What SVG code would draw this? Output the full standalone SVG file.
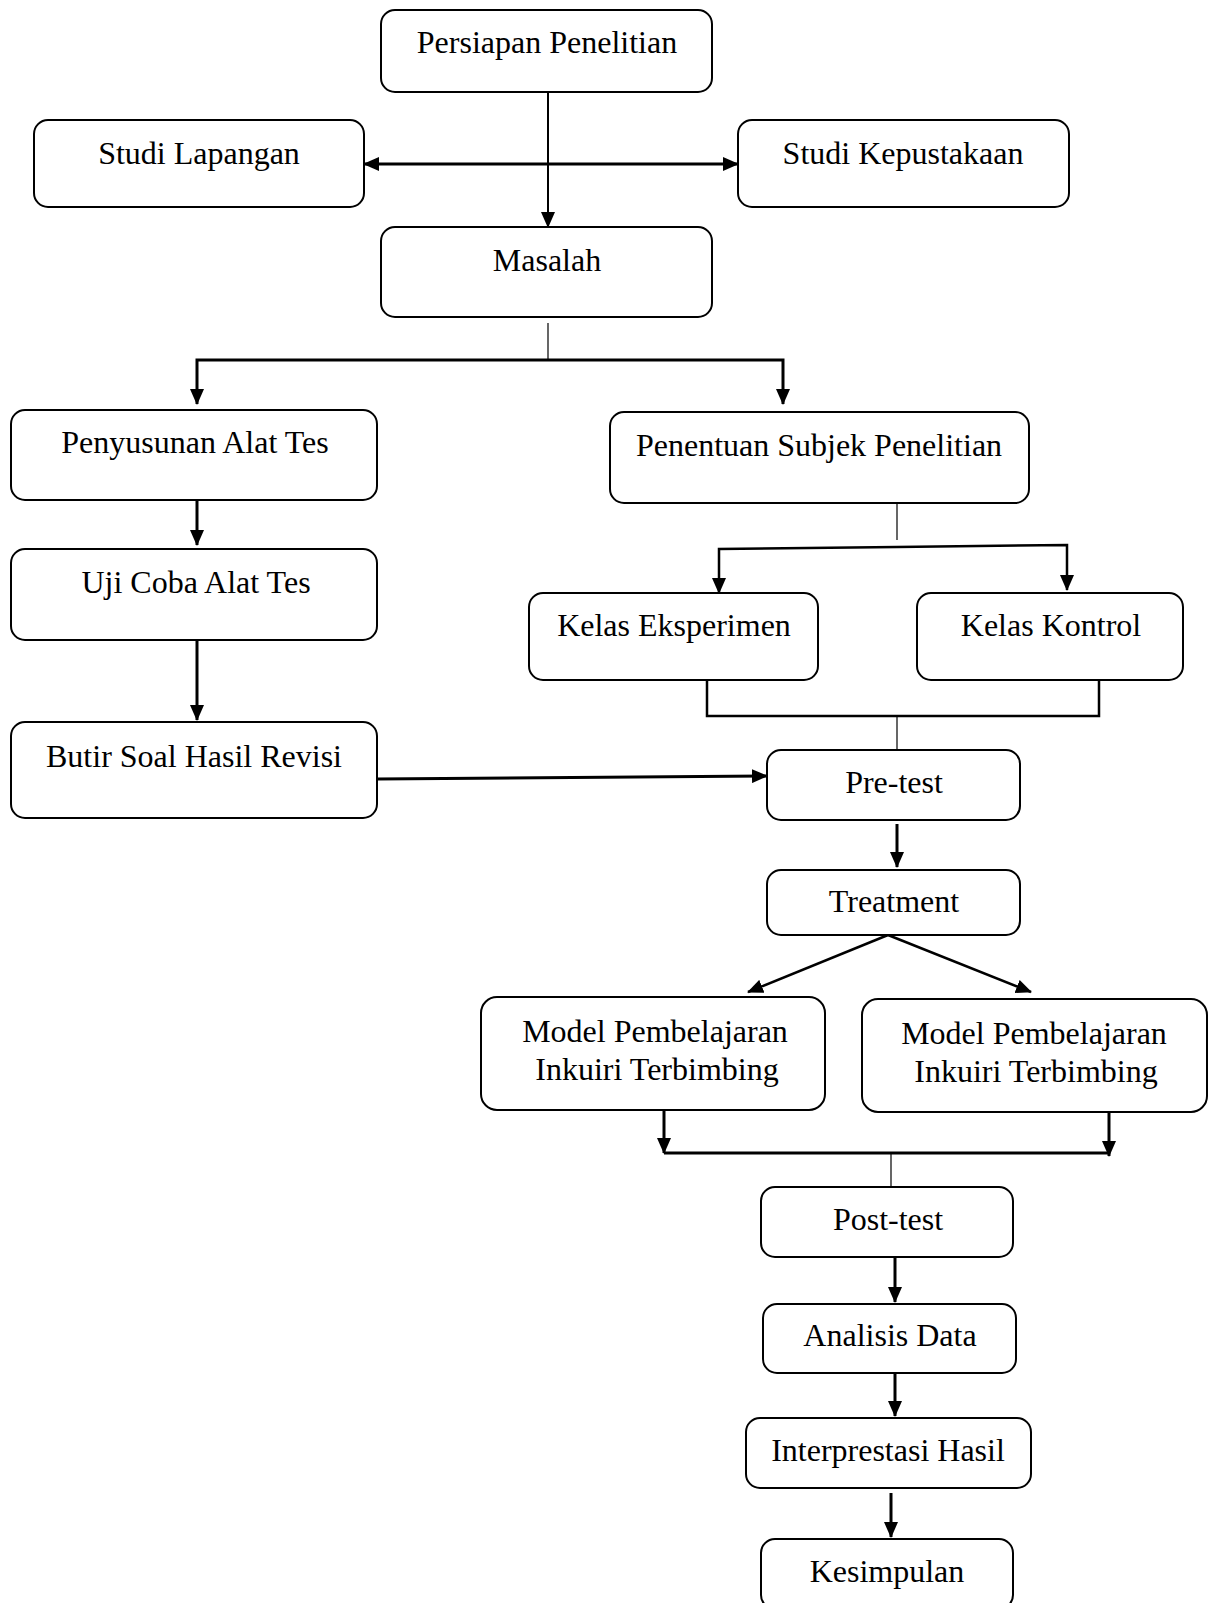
<svg xmlns="http://www.w3.org/2000/svg" width="1214" height="1603" viewBox="0 0 1214 1603">
<style>
.box{fill:#fff;stroke:#000;stroke-width:2}
.t{font-family:"Liberation Serif","Times New Roman",serif;font-size:32px;fill:#000;text-anchor:middle}
.c{fill:none;stroke:#000;stroke-width:2.5}
.thin{fill:none;stroke:#000;stroke-width:1.2}
.a{marker-end:url(#ah)}
</style>
<defs>
<marker id="ah" markerUnits="userSpaceOnUse" markerWidth="16" markerHeight="14" viewBox="0 0 16 14" refX="15" refY="7" orient="auto-start-reverse">
<path d="M0,0 L16,7 L0,14 z" fill="#000"/>
</marker>
</defs>
<rect width="1214" height="1603" fill="#fff"/>
<g id="connectors">
<path class="c a" d="M548,92 V227" style="stroke-width:2"/>
<path class="c a" d="M364,164 H738" style="stroke-width:3;marker-start:url(#ah)"/>
<path class="thin" d="M548,323 V360"/>
<path class="c a" d="M548,360 H197 V404" style="stroke-width:3"/>
<path class="c a" d="M548,360 H783 V404" style="stroke-width:3"/>
<path class="c a" d="M197,500 V545" style="stroke-width:3"/>
<path class="c a" d="M197,640 V720" style="stroke-width:3"/>
<path class="c a" d="M377,779 L767,776" style="stroke-width:3"/>
<path class="thin" d="M897,503 V540"/>
<path class="c a" d="M897,547 L719,549 V593"/>
<path class="c a" d="M897,547 L1067,545 V590"/>
<path class="c" d="M707,680 V716 H1099 V680"/>
<path class="thin" d="M897,716 V750"/>
<path class="c a" d="M897,824 V867" style="stroke-width:3"/>
<path class="c a" d="M888,935 L748,992"/>
<path class="c a" d="M888,935 L1031,992"/>
<path class="c a" d="M664,1108 V1153" style="stroke-width:3"/>
<path class="c a" d="M1109,1112 V1156" style="stroke-width:3"/>
<path class="c" d="M664,1153 H1109" style="stroke-width:3"/>
<path class="thin" d="M891,1153 V1187"/>
<path class="c a" d="M895,1257 V1302" style="stroke-width:3"/>
<path class="c a" d="M895,1373 V1416" style="stroke-width:3"/>
<path class="c a" d="M891,1493 V1537" style="stroke-width:3"/>
</g>
<g id="n-persiapan"><rect class="box" x="381" y="10" width="331" height="82" rx="14"/><text class="t" x="547" y="53">Persiapan Penelitian</text></g>
<g id="n-lapangan"><rect class="box" x="34" y="120" width="330" height="87" rx="14"/><text class="t" x="199" y="164">Studi Lapangan</text></g>
<g id="n-kepustakaan"><rect class="box" x="738" y="120" width="331" height="87" rx="14"/><text class="t" x="903" y="164">Studi Kepustakaan</text></g>
<g id="n-masalah"><rect class="box" x="381" y="227" width="331" height="90" rx="14"/><text class="t" x="547" y="271">Masalah</text></g>
<g id="n-penyusunan"><rect class="box" x="11" y="410" width="366" height="90" rx="14"/><text class="t" x="195" y="453">Penyusunan Alat Tes</text></g>
<g id="n-penentuan"><rect class="box" x="610" y="412" width="419" height="91" rx="14"/><text class="t" x="819" y="456">Penentuan Subjek Penelitian</text></g>
<g id="n-ujicoba"><rect class="box" x="11" y="549" width="366" height="91" rx="14"/><text class="t" x="196" y="593">Uji Coba Alat Tes</text></g>
<g id="n-butir"><rect class="box" x="11" y="722" width="366" height="96" rx="14"/><text class="t" x="194" y="767">Butir Soal Hasil Revisi</text></g>
<g id="n-eksperimen"><rect class="box" x="529" y="593" width="289" height="87" rx="14"/><text class="t" x="674" y="636">Kelas Eksperimen</text></g>
<g id="n-kontrol"><rect class="box" x="917" y="593" width="266" height="87" rx="14"/><text class="t" x="1051" y="636">Kelas Kontrol</text></g>
<g id="n-pretest"><rect class="box" x="767" y="750" width="253" height="70" rx="14"/><text class="t" x="894" y="793">Pre-test</text></g>
<g id="n-treatment"><rect class="box" x="767" y="870" width="253" height="65" rx="14"/><text class="t" x="894" y="912">Treatment</text></g>
<g id="n-model1"><rect class="box" x="481" y="997" width="344" height="113" rx="16"/><text class="t" x="655" y="1042">Model Pembelajaran</text><text class="t" x="657" y="1080">Inkuiri Terbimbing</text></g>
<g id="n-model2"><rect class="box" x="862" y="999" width="345" height="113" rx="16"/><text class="t" x="1034" y="1044">Model Pembelajaran</text><text class="t" x="1036" y="1082">Inkuiri Terbimbing</text></g>
<g id="n-posttest"><rect class="box" x="761" y="1187" width="252" height="70" rx="14"/><text class="t" x="888" y="1230">Post-test</text></g>
<g id="n-analisis"><rect class="box" x="763" y="1304" width="253" height="69" rx="14"/><text class="t" x="890" y="1346">Analisis Data</text></g>
<g id="n-interprestasi"><rect class="box" x="746" y="1418" width="285" height="70" rx="14"/><text class="t" x="888" y="1461">Interprestasi Hasil</text></g>
<g id="n-kesimpulan"><rect class="box" x="761" y="1539" width="252" height="70" rx="14"/><text class="t" x="887" y="1582">Kesimpulan</text></g>
</svg>
